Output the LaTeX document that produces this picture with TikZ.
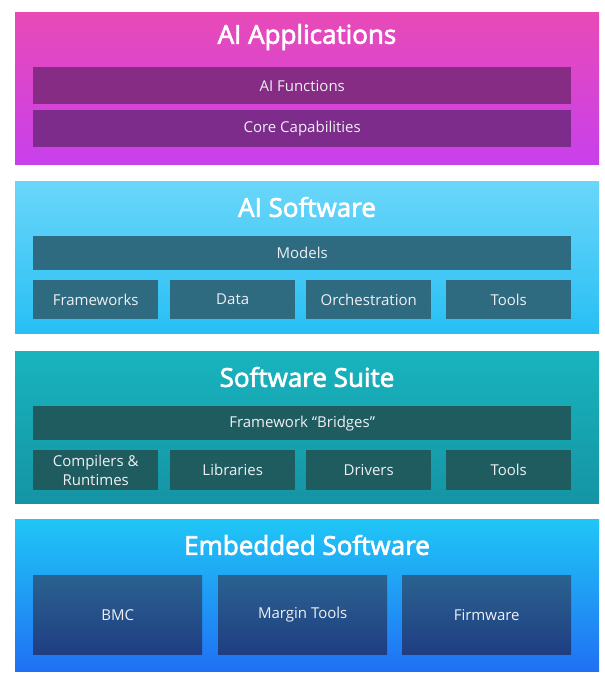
\documentclass[tikz,border=0pt]{standalone}
\usepackage{fontspec}
\setmainfont{Open Sans}
\newfontfamily\titlefont[FakeBold=2.6]{Open Sans}
\definecolor{pAtop}{HTML}{E84AB6}
\definecolor{pAbot}{HTML}{C840EC}
\definecolor{barA}{HTML}{862C84}
\definecolor{barAb}{HTML}{7E2C8C}
\definecolor{pBtop}{HTML}{6AD6FA}
\definecolor{pBbot}{HTML}{28BFF4}
\definecolor{barB}{HTML}{2E6A80}
\definecolor{pCtop}{HTML}{18B4BE}
\definecolor{pCbot}{HTML}{1594A4}
\definecolor{barC}{HTML}{1F5C60}
\definecolor{pDtop}{HTML}{20C6F6}
\definecolor{pDbot}{HTML}{2070F4}
\definecolor{boxDtop}{HTML}{2A6290}
\definecolor{boxDbot}{HTML}{1F3E82}
\definecolor{labtext}{HTML}{EEF0F4}
\begin{document}
\begin{tikzpicture}[x=1pt,y=-1pt,
  panel/.style={draw=none,rectangle,inner sep=0pt,anchor=north west,minimum width=584pt,minimum height=152pt},
  ptitle/.style={text=white,font=\titlefont\fontsize{26}{28}\selectfont,inner sep=0pt},
  bar/.style={rectangle,inner sep=0pt,anchor=north west,text=labtext,font=\fontsize{15}{19}\selectfont,align=center},
  wide/.style={bar,minimum width=538pt},
  quarter/.style={bar,minimum width=125pt,minimum height=39pt},
  third/.style={bar,minimum width=169pt,minimum height=79pt,top color=boxDtop,bottom color=boxDbot}
]
\fill[white] (0,0) rectangle (605,675);
\useasboundingbox (0,0) rectangle (605,675);

% Panel 1
\node[panel,top color=pAtop,bottom color=pAbot] (p1) at (15,12) {};
\node[ptitle] (t1) at (307,37) {AI Applications};
\node[wide,fill=barA,minimum height=37pt] (aifun) at (33,67) {AI Functions};
\node[wide,fill=barAb,minimum height=37pt] (core) at (33,110) {Core Capabilities};

% Panel 2
\node[panel,top color=pBtop,bottom color=pBbot] (p2) at (15,181) {};
\node[ptitle] (t2) at (307,207) {AI Software};
\node[wide,fill=barB,minimum height=34pt] (models) at (33,236) {Models};
\node[quarter,fill=barB] (frameworks) at (33,280) {Frameworks};
\node[quarter,fill=barB] (data) at (170,280) {Data};
\node[quarter,fill=barB] (orch) at (306,280) {Orchestration};
\node[quarter,fill=barB] (tools1) at (446,280) {Tools};

% Panel 3
\node[panel,top color=pCtop,bottom color=pCbot] (p3) at (15,351) {};
\node[ptitle] (t3) at (307,377) {Software Suite};
\node[wide,fill=barC,minimum height=34pt] (bridges) at (33,406) {Framework “Bridges”};
\node[quarter,fill=barC,minimum height=40pt] (comp) at (33,450) {Compilers \&\\Runtimes};
\node[quarter,fill=barC,minimum height=40pt] (libs) at (170,450) {Libraries};
\node[quarter,fill=barC,minimum height=40pt] (drivers) at (306,450) {Drivers};
\node[quarter,fill=barC,minimum height=40pt] (tools2) at (446,450) {Tools};

% Panel 4
\node[panel,top color=pDtop,bottom color=pDbot] (p4) at (15,519) {};
\node[ptitle] (t4) at (307,545) {Embedded Software};
\node[third] (bmc) at (33,575) {BMC};
\node[third] (margin) at (218,575) {Margin Tools};
\node[third] (firm) at (402,575) {Firmware};
\end{tikzpicture}
\end{document}
